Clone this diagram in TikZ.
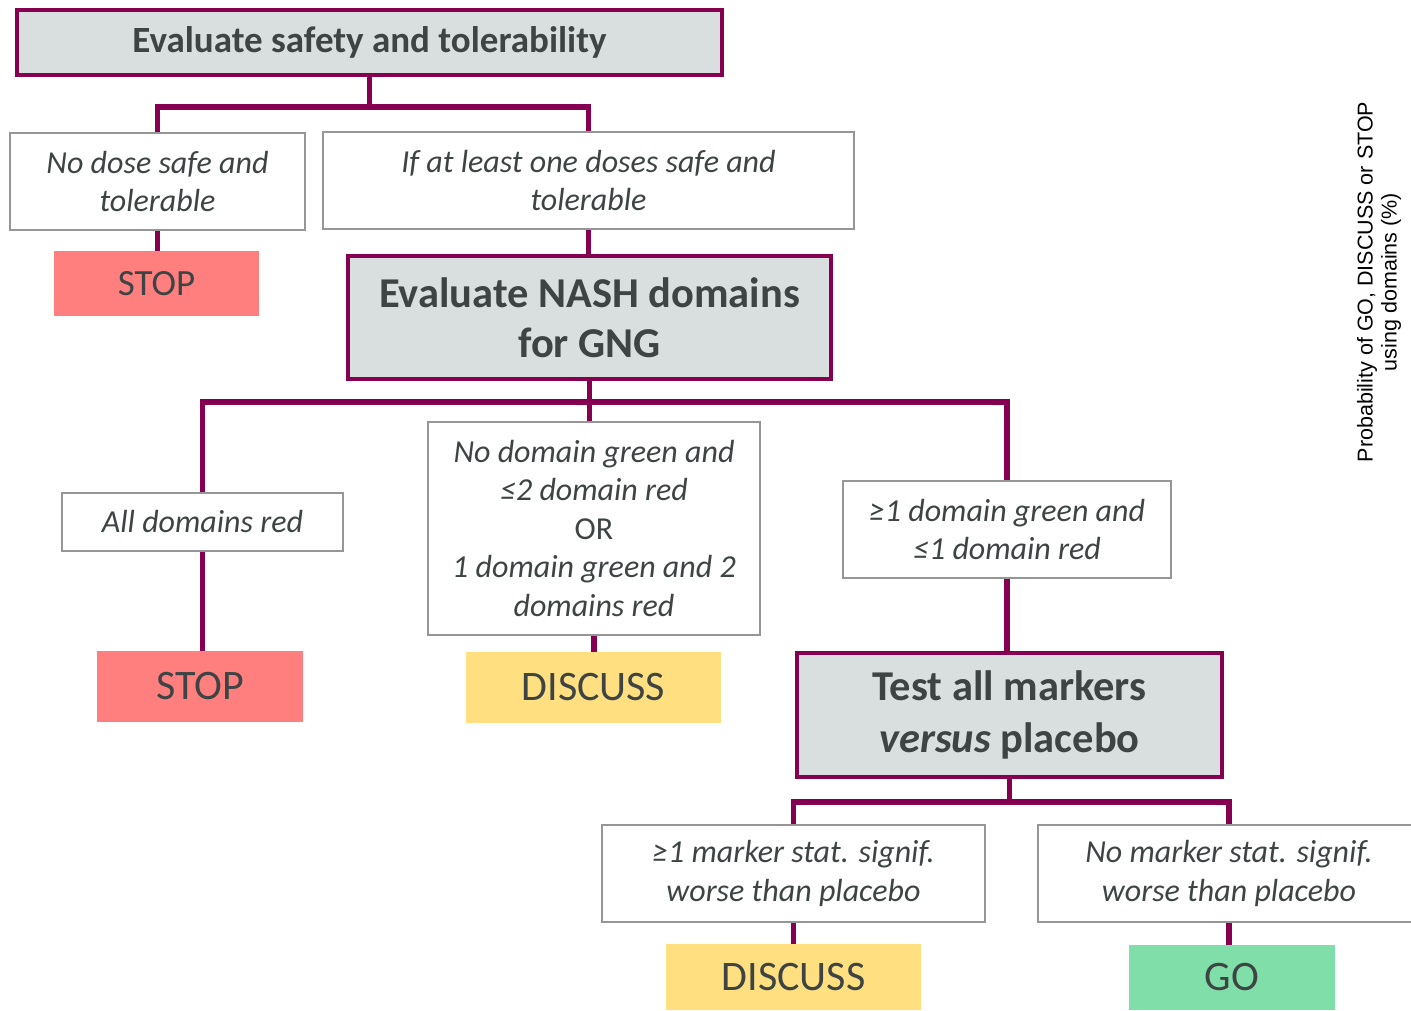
\documentclass[tikz,border=0pt]{standalone}
\usepackage{fontspec}
\setmainfont{Carlito}
\newfontfamily\arialfont{Liberation Sans}
\usetikzlibrary{positioning}

\definecolor{gngpurple}{RGB}{134,0,82}
\definecolor{gnggray}{RGB}{217,223,223}
\definecolor{gngborder}{RGB}{150,150,150}
\definecolor{gngtext}{RGB}{62,68,68}
\definecolor{gngred}{RGB}{255,127,127}
\definecolor{gngyellow}{RGB}{255,223,128}
\definecolor{gnggreen}{RGB}{128,223,168}

\begin{document}
\begin{tikzpicture}
		[x=1pt,y=-1pt,
		decide/.style={draw=gngpurple,line width=3.8pt,fill=gnggray,text=gngtext,align=center,inner sep=0pt},
		cond/.style={draw=gngborder,line width=2pt,fill=white,text=gngtext,align=center,inner sep=0pt,
			font=\itshape\fontsize{32}{38.5}\selectfont},
		outcome/.style={draw=none,text=gngtext,inner sep=0pt,font=\fontsize{42}{44}\selectfont},
		link/.style={draw=gngpurple,line width=5.5pt}]
		\useasboundingbox (0,0) rectangle (1411,1011);
		
		% first level
		\node[decide,minimum width=705pt,minimum height=65pt,font=\bfseries\fontsize{37}{40}\selectfont] (safety) at (369.5,42.5) {Evaluate safety and tolerability};
		\node[cond,minimum width=295pt,minimum height=97pt] (nodose) at (157.5,181.5) {No dose safe and\\tolerable};
		\node[cond,minimum width=531pt,minimum height=97pt] (ifone) at (588.5,180.5) {If at least one doses safe and\\tolerable};
		\node[outcome,fill=gngred,minimum width=205pt,minimum height=65pt,font=\fontsize{37}{40}\selectfont] (stopA) at (156.5,283.5) {STOP};
		
		% second level
		\node[decide,minimum width=483pt,minimum height=123pt,font=\bfseries\fontsize{42.5}{50}\selectfont] (nash) at (589.5,317.5) {Evaluate NASH domains\\for GNG};
		\node[cond,minimum width=281pt,minimum height=58pt] (alldom) at (202.5,522) {All domains red};
		\node[cond,minimum width=332pt,minimum height=213pt] (nogreen) at (594,528.5) {No domain green and\\≤2 domain red\\\upshape OR\\1 domain green and 2\\domains red};
		\node[cond,minimum width=328pt,minimum height=97pt] (onegreen) at (1007,529.5) {≥1 domain green and\\≤1 domain red};
		\node[outcome,fill=gngred,minimum width=206pt,minimum height=71pt] (stopB) at (200,686.5) {STOP};
		\node[outcome,fill=gngyellow,minimum width=255pt,minimum height=71pt] (discussA) at (593.5,687.5) {DISCUSS};
		
		% third level
		\node[decide,minimum width=425pt,minimum height=124pt,font=\bfseries\fontsize{42.5}{52}\selectfont] (test) at (1009.5,715) {Test all markers\\\textit{versus} placebo};
		\node[cond,minimum width=383pt,minimum height=97pt] (worse) at (793.5,873.5) {≥1 marker stat. signif.\\worse than placebo};
		\node[cond,minimum width=382pt,minimum height=97pt] (nomarker) at (1229,873.5) {No marker stat. signif.\\worse than placebo};
		\node[outcome,fill=gngyellow,minimum width=255pt,minimum height=66pt] (discussB) at (793.5,977) {DISCUSS};
		\node[outcome,fill=gnggreen,minimum width=206pt,minimum height=65pt] (go) at (1232,977.5) {GO};
		
		\node[rotate=90,align=center,text=black,font=\arialfont\fontsize{21.5}{24}\selectfont] (prob) at (1379,282) {Probability of GO, DISCUSS or STOP\\using domains (\%)};
		
		% connectors
		\coordinate (j1) at (safety.south |- 0,107);
		\coordinate (j2) at (nash.south |- 0,402);
		\coordinate (j3) at (test.south |- 0,802);
		\draw[link] (safety.south) -- (j1);
		\draw[link] (nodose.north) |- (j1) -| (ifone.north);
		\draw[link] (nodose.south) -- (stopA.north -| nodose.south);
		\draw[link] (ifone.south) -- (nash.north -| ifone.south);
		\draw[link] (nash.south) -- (j2);
		\draw[link] (alldom.north) |- (j2) -| (onegreen.north);
		\draw[link] (j2) -- (j2 |- nogreen.north);
		\draw[link] (alldom.south) -- (stopB.north -| alldom.south);
		\draw[link] (nogreen.south) -- (discussA.north -| nogreen.south);
		\draw[link] (onegreen.south) -- (test.north -| onegreen.south);
		\draw[link] (test.south) -- (j3);
		\draw[link] (worse.north) |- (j3) -| (nomarker.north);
		\draw[link] (worse.south) -- (discussB.north -| worse.south);
		\draw[link] (nomarker.south) -- (go.north -| nomarker.south);
		\end{tikzpicture}
\end{document}
